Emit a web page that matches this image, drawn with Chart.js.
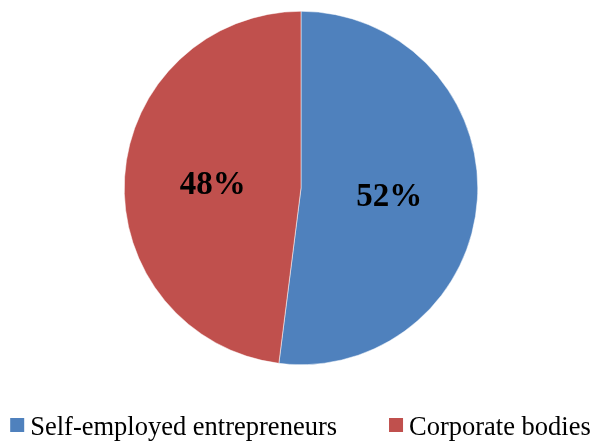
<!DOCTYPE html>
<html>
<head>
<meta charset="utf-8">
<script src="https://cdn.jsdelivr.net/npm/chart.js@4/dist/chart.umd.min.js"></script>
<style>
  html, body { margin: 0; padding: 0; background: #ffffff; }
  #wrap { width: 593px; height: 444px; position: relative; }
</style>
</head>
<body>
<div id="wrap"><canvas id="c"></canvas></div>
<script>
const categories = ["Self-employed entrepreneurs", "Corporate bodies"];
const shares = [52, 48];
const sliceColors = ["#4F81BD", "#C0504D"];

const SERIF = "'Liberation Serif', 'Times New Roman', serif";

// Writes each slice's percentage at the slice's centroid
const sliceLabels = {
  id: "sliceLabels",
  afterDatasetsDraw(chart) {
    const ctx = chart.ctx;
    const meta = chart.getDatasetMeta(0);
    const data = chart.data.datasets[0].data;
    ctx.save();
    ctx.font = "bold 33px " + SERIF;
    ctx.fillStyle = "#000000";
    ctx.textAlign = "center";
    ctx.textBaseline = "alphabetic";
    meta.data.forEach((arc, i) => {
      const p = arc.tooltipPosition();
      ctx.fillText(data[i] + "%", p.x, p.y + 12);
    });
    ctx.restore();
  }
};

// One-row legend under the pie: colour square, small gap, label, wide gap
const bottomLegend = {
  id: "bottomLegend",
  afterDraw(chart) {
    const ctx = chart.ctx;
    const ds = chart.data.datasets[0];
    const labels = chart.data.labels;
    const box = 14, boxGap = 6, itemGap = 52;
    const baseline = 435;
    ctx.save();
    ctx.font = "26.5px " + SERIF;
    ctx.textBaseline = "alphabetic";
    ctx.textAlign = "left";
    const widths = labels.map(t => ctx.measureText(t).width);
    let total = 0;
    widths.forEach((w, i) => { total += box + boxGap + w + (i < widths.length - 1 ? itemGap : 0); });
    let x = 300.5 - total / 2;
    labels.forEach((t, i) => {
      ctx.fillStyle = ds.backgroundColor[i];
      ctx.fillRect(x, baseline - 17, box, box);
      x += box + boxGap;
      ctx.fillStyle = "#000000";
      ctx.fillText(t, x, baseline);
      x += widths[i] + itemGap;
    });
    ctx.restore();
  }
};

new Chart(document.getElementById("c"), {
  type: "pie",
  data: {
    labels: categories,
    datasets: [{
      data: shares,
      backgroundColor: sliceColors,
      borderColor: "#ffffff",
      borderWidth: 0.5
    }]
  },
  options: {
    responsive: true,
    maintainAspectRatio: false,
    animation: false,
    layout: { padding: { top: 11, bottom: 79, left: 9, right: 0 } },
    plugins: {
      tooltip: { enabled: false },
      legend: { display: false }
    }
  },
  plugins: [sliceLabels, bottomLegend]
});
</script>
</body>
</html>
